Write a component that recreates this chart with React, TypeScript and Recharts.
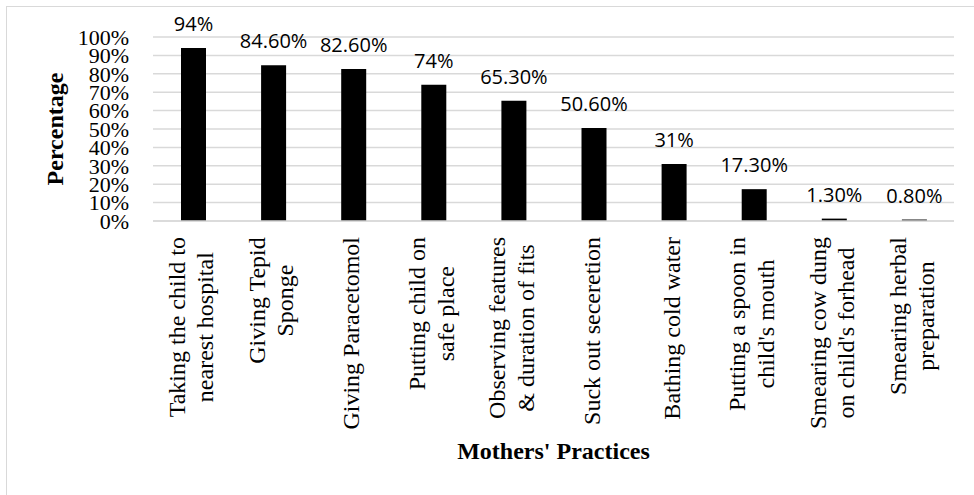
import React from 'react';
import { BarChart, Bar, XAxis, YAxis, CartesianGrid, LabelList, Label } from 'recharts';

const categories = [
  "Taking the child to\nnearest hospital",
  "Giving Tepid\nSponge",
  "Giving Paracetomol",
  "Putting child on\nsafe place",
  "Observing features\n& duration of fits",
  "Suck out seceretion",
  "Bathing cold water",
  "Putting a spoon in\nchild's mouth",
  "Smearing cow dung\non child's forhead",
  "Smearing herbal\npreparation",
];
const percentages = [94, 84.6, 82.6, 74, 65.3, 50.6, 31, 17.3, 1.3, 0.8];
const valueLabels = ["94%", "84.60%", "82.60%", "74%", "65.30%", "50.60%", "31%", "17.30%", "1.30%", "0.80%"];
const yTicks = [0, 10, 20, 30, 40, 50, 60, 70, 80, 90, 100];

const data = categories.map((c, i) => ({ category: c, value: percentages[i], label: valueLabels[i] }));

const SERIF = "'Liberation Serif', 'Times New Roman', serif";
const GRID = '#d9d9d9';

let ctx: CanvasRenderingContext2D | null = null;
function measure(text: string, font: string): number {
  if (!ctx) {
    const c = document.createElement('canvas');
    ctx = c.getContext('2d');
  }
  if (!ctx) return text.length * 10;
  ctx.font = font;
  return ctx.measureText(text).width;
}

const CategoryTick = (props: any) => {
  const { x, y, payload } = props;
  const lines = String(payload.value).split('\n');
  const font = "24px 'Liberation Serif'";
  const maxW = Math.max(...lines.map((l) => measure(l, font)));
  const top = y + 16;
  const cy = top + maxW / 2;
  return (
    <g>
      {lines.map((l, i) => {
        const lx = x + (i - (lines.length - 1) / 2) * 28.5 - 2;
        return (
          <text
            key={i}
            x={lx}
            y={cy}
            transform={`rotate(-90 ${lx} ${cy})`}
            textAnchor="middle"
            dominantBaseline="central"
            fontFamily={SERIF}
            fontSize={24}
            fill="#000"
          >
            {l}
          </text>
        );
      })}
    </g>
  );
};

const ValueLabel = (props: any) => {
  const { x, y, width, value } = props;
  return (
    <text
      x={Number(x) + Number(width) / 2}
      y={Number(y) - 17}
      textAnchor="middle"
      fontFamily="'Open Sans', sans-serif"
      fontSize={20}
      fill="#000"
    >
      {value}
    </text>
  );
};

export default function App() {
  return (
    <div style={{ position: 'absolute', left: 0, top: 0, width: 974, height: 495, overflow: 'hidden', background: '#fff' }}>
      <div
        style={{
          position: 'absolute',
          left: 6,
          top: 6,
          width: 1200,
          height: 1200,
          border: `1.5px solid ${GRID}`,
        }}
      />
      <div style={{ position: 'absolute', left: 0, top: 0 }}>
        <BarChart width={974} height={495} data={data} margin={{ top: 37, right: 20, bottom: 0, left: 0 }}>
          <CartesianGrid vertical={false} stroke={GRID} strokeWidth={1.5} />
          <XAxis
            dataKey="category"
            height={274}
            interval={0}
            tickLine={false}
            tickSize={0}
            tickMargin={0}
            axisLine={{ stroke: GRID, strokeWidth: 1.5 }}
            tick={<CategoryTick />}
          >
            <Label
              content={(p: any) => {
                const vb = p.viewBox || {};
                return (
                  <text
                    x={vb.x + vb.width / 2}
                    y={vb.y + 238}
                    textAnchor="middle"
                    fontFamily={SERIF}
                    fontWeight="bold"
                    fontSize={24}
                    fill="#000"
                  >
                    Mothers' Practices
                  </text>
                );
              }}
            />
          </XAxis>
          <YAxis
            width={153}
            domain={[0, 100]}
            ticks={yTicks}
            interval={0}
            tickLine={false}
            axisLine={false}
            tickSize={0}
            tickMargin={24}
            tickFormatter={(v: number) => `${v}%`}
            tick={{ fill: '#000', fontSize: 22, fontFamily: SERIF }}
          >
            <Label
              content={(p: any) => {
                const vb = p.viewBox || {};
                const tx = vb.x + 63;
                const ty = vb.y + vb.height / 2;
                return (
                  <text
                    x={tx}
                    y={ty}
                    transform={`rotate(-90 ${tx} ${ty})`}
                    textAnchor="middle"
                    fontFamily={SERIF}
                    fontWeight="bold"
                    fontSize={24}
                    fill="#000"
                  >
                    Percentage
                  </text>
                );
              }}
            />
          </YAxis>
          <Bar dataKey="value" fill="#000" barSize={25} isAnimationActive={false}>
            <LabelList dataKey="label" content={<ValueLabel />} />
          </Bar>
        </BarChart>
      </div>
    </div>
  );
}
